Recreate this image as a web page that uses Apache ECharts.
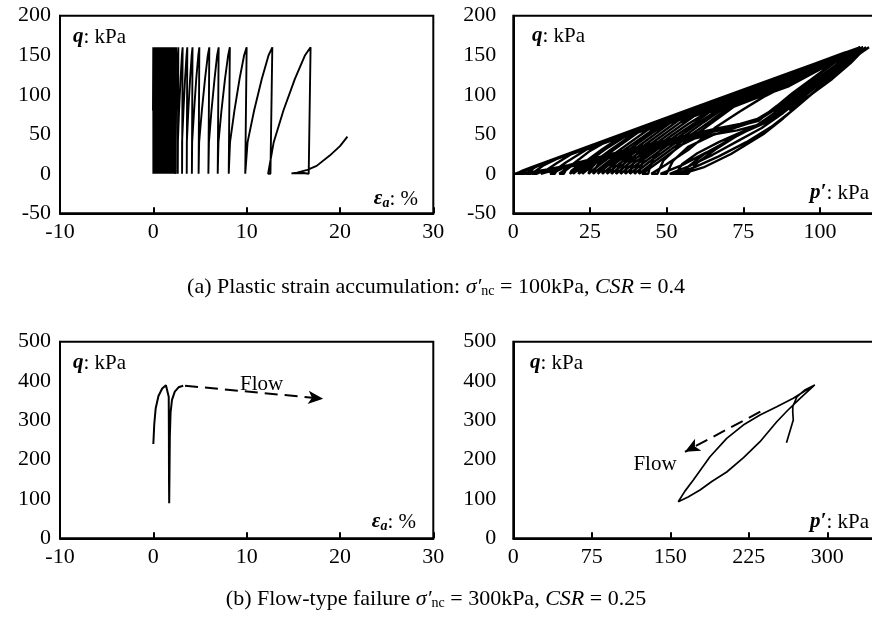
<!DOCTYPE html>
<html>
<head>
<meta charset="utf-8">
<title>Cyclic triaxial paths</title>
<script src="https://cdn.jsdelivr.net/npm/echarts@6/dist/echarts.min.js"></script>
<style>
  html, body { margin: 0; padding: 0; background: #fff; }
  #main { width: 872px; height: 626px; }
</style>
</head>
<body>
<div id="main"></div>
<script>
// (a) strain path, one cycle per column entry: strain (%) where q reaches each level
const loadLevels = [0, 40, 80, 120, 150, 160]
const cycleStart = [0.05, 0.1, 0.17, 0.24, 0.31, 0.38, 0.45, 0.52, 0.59, 0.67, 0.75, 0.83, 0.91, 0.99, 1.07, 1.16, 1.25, 1.35, 1.45, 1.55, 1.66, 1.77, 1.89, 2.01, 2.13, 2.3, 2.55, 3.0, 3.5, 4.05, 4.75, 5.8, 6.8, 7.95, 9.7, 12.3]
const cycleAt40 = [0.07, 0.12, 0.19, 0.26, 0.33, 0.4, 0.47, 0.54, 0.61, 0.69, 0.77, 0.85, 0.93, 1.01, 1.09, 1.18, 1.27, 1.37, 1.47, 1.57, 1.68, 1.79, 1.91, 2.04, 2.17, 2.35, 2.63, 3.08, 3.59, 4.16, 4.91, 5.96, 6.98, 8.22, 10.1, 12.9]
const cycleAt80 = [0.09, 0.15, 0.22, 0.29, 0.36, 0.43, 0.5, 0.57, 0.64, 0.72, 0.8, 0.88, 0.96, 1.04, 1.12, 1.21, 1.31, 1.41, 1.51, 1.61, 1.72, 1.84, 1.96, 2.09, 2.24, 2.44, 2.76, 3.23, 3.75, 4.37, 5.2, 6.23, 7.3, 8.69, 10.8, 13.94]
const cycleAt120 = [0.11, 0.18, 0.25, 0.32, 0.39, 0.46, 0.53, 0.6, 0.67, 0.75, 0.83, 0.91, 0.99, 1.07, 1.16, 1.25, 1.35, 1.45, 1.55, 1.66, 1.77, 1.89, 2.01, 2.14, 2.32, 2.54, 2.92, 3.4, 3.94, 4.6, 5.54, 6.56, 7.68, 9.24, 11.62, 15.17]
const cycleAt150 = [0.13, 0.2, 0.27, 0.34, 0.41, 0.48, 0.55, 0.62, 0.7, 0.78, 0.86, 0.94, 1.02, 1.1, 1.19, 1.28, 1.38, 1.48, 1.58, 1.69, 1.8, 1.92, 2.04, 2.18, 2.37, 2.63, 3.06, 3.56, 4.11, 4.82, 5.84, 6.84, 8.02, 9.73, 12.35, 16.26]
const cyclePeak = [0.15, 0.22, 0.29, 0.36, 0.43, 0.5, 0.57, 0.64, 0.72, 0.8, 0.88, 0.96, 1.04, 1.12, 1.21, 1.3, 1.4, 1.5, 1.6, 1.71, 1.82, 1.94, 2.06, 2.2, 2.4, 2.68, 3.14, 3.64, 4.2, 4.93, 6.0, 7.0, 8.2, 10.0, 12.75, 16.85]
const cycleUnload = [0.13, 0.2, 0.27, 0.34, 0.41, 0.48, 0.55, 0.62, 0.7, 0.78, 0.86, 0.94, 1.02, 1.1, 1.19, 1.28, 1.38, 1.48, 1.58, 1.69, 1.8, 1.92, 2.04, 2.17, 2.36, 2.62, 3.08, 3.58, 4.13, 4.85, 5.9, 6.9, 8.08, 9.85, 12.55, 16.65]
const denseCycles = 25 // early cycles packed into the black block near εa = 0–2.4 %
const strainHeadA = [[0, 80], [0.03, 160], [0.04, 0]]
const strainTailA = [[16.1, 1], [14.8, 0.5], [15.4, 1.5], [16.5, 5], [17.5, 10], [18.9, 23], [20, 35], [20.8, 47]]

// (a) stress path p'-q, one list per cycle (loading then unloading)
const stressCyclesA = [
  [[90, 80], [97, 100], [104, 120], [110, 140], [113, 152], [115, 160], [109, 143], [101, 120], [93, 98], [86, 79], [80, 63], [73, 48], [66, 31], [60, 14], [57, 0]],
  [[55, 0], [62, 8], [71, 25], [81.5, 50], [88, 70], [94.6, 92], [101, 114], [107, 134], [112, 150], [116, 160], [110, 144], [103, 123], [96, 103], [89, 83], [83, 66], [76, 54], [69, 40], [62, 24], [57, 9], [55, 0]],
  [[53, 0], [59, 8], [67, 22], [76, 40], [84, 59], [91, 80], [98, 103], [105, 128], [110, 146], [115, 160], [108, 141], [100, 118], [93, 98], [87, 80], [81, 63], [74, 52], [67, 40], [60, 26], [55, 12], [53, 0]],
  [[51, 0], [57, 9], [65, 24], [73, 41], [81, 58], [88, 77], [95, 98], [102, 121], [108, 141], [114, 160], [107, 141], [99, 119], [92, 100], [86, 83], [80, 68], [73, 59], [65, 49], [57, 34], [52, 16], [50, 0]],
  [[48, 0], [55, 11], [63, 27], [71, 44], [79, 60], [86, 77], [93, 96], [100, 117], [107, 138], [111, 150], [114, 160], [106, 140], [98, 117], [91, 98], [85, 82], [79, 68], [71, 60], [62, 50], [54, 35], [49, 17], [47, 0]],
  [[45, 0], [50, 12], [57, 30], [62, 46], [66, 59], [74, 79], [81.5, 97], [87, 108], [96, 124], [105, 143], [113, 160], [105, 142], [97, 119], [91, 102], [86, 86], [81, 71], [74, 63], [66, 57], [56, 48], [50, 38], [46, 22], [44.5, 8], [44, 0]],
  [[42, 0], [47, 14], [53, 31], [59, 48], [66, 68], [72, 85], [80, 97], [90, 111], [100, 132], [108, 148], [113, 160], [105, 141], [97, 118], [91, 100], [85, 83], [80, 67], [72, 59], [65, 53], [55, 44], [48, 36], [43, 22], [41.5, 8], [41, 0]],
  [[40.5, 0], [45.5, 14], [51.5, 31], [57.5, 48], [64, 66], [70, 83], [80, 97.5], [90, 112], [100, 132.5], [108, 148.5], [114, 160], [106, 140], [98, 116], [92, 98], [86, 80], [81, 63], [73, 55], [64, 49], [54, 40], [47, 34], [42, 20], [40, 8], [39.5, 0]],
  [[39, 0], [44, 14], [50, 31], [56, 48], [62, 65], [68, 81], [80, 98.6], [90, 112.8], [100, 133], [108, 149], [113, 160], [106, 140], [98, 116], [92, 98], [86, 80], [81, 63], [73, 55], [64, 49], [54, 40], [46, 33], [40, 20], [38.5, 8], [38, 0]],
  [[37.5, 0], [42.5, 14], [48.5, 31], [54.5, 48], [60.5, 64.5], [66, 79], [80, 99.6], [90, 113.8], [100, 133.6], [108, 149.2], [113, 160], [105, 141], [97, 118], [91, 100], [85, 83], [80, 67], [72, 59], [65, 53], [55, 44], [45, 35], [40, 24], [37, 10], [36.5, 0]],
  [[36, 0], [41, 14], [47, 31], [53, 48], [59, 64], [64, 78], [70, 86.4], [80, 100.6], [90, 114.8], [100, 134.2], [108, 149.5], [114, 160], [105, 142], [97, 119], [91, 102], [86, 86], [81, 71], [74, 63], [66, 57], [56, 48], [44, 37], [39, 26], [35.5, 10], [35, 0]],
  [[34.5, 0], [39.5, 14], [45.5, 31], [51.5, 48], [57, 63], [62, 75], [70, 87.4], [80, 101.6], [90, 115.8], [100, 134.8], [108, 149.8], [114, 160], [105, 142], [97, 119], [91, 102], [86, 86], [81, 71], [74, 63], [66, 57], [56, 48], [44, 37], [38, 27], [34.5, 11], [33.5, 0]],
  [[33, 0], [38, 14], [44, 31], [50, 48], [55, 62], [59, 73], [70, 88.4], [80, 102.6], [90, 116.8], [100, 135.4], [108, 150.1], [113, 160], [105, 141], [97, 118], [91, 100], [85, 83], [80, 67], [72, 59], [65, 53], [55, 44], [44, 34], [37, 27], [33, 12], [32, 0]],
  [[31.5, 0], [36.5, 14], [42.5, 31], [48.5, 48], [54.5, 65], [60, 75.2], [70, 89.4], [80, 103.6], [90, 117.8], [100, 136], [108, 150.4], [113, 160], [106, 140], [98, 116], [92, 98], [86, 80], [81, 63], [73, 55], [64, 49], [54, 40], [43, 31], [36, 24], [32, 11], [30.5, 0]],
  [[30, 0], [35, 14], [41, 31], [47, 48], [54, 68], [60, 76.2], [70, 90.4], [80, 104.6], [90, 118.8], [100, 136.6], [108, 150.7], [114, 160], [106, 140], [98, 116], [92, 98], [86, 80], [81, 63], [73, 55], [64, 49], [54, 40], [43, 31], [35, 22], [30, 10], [29, 0]],
  [[28.5, 0], [33.5, 14], [39.5, 31], [45.5, 48], [51, 64], [60, 76.7], [70, 90.9], [80, 105.1], [90, 119.3], [100, 136.9], [108, 150.9], [114, 160], [105, 141], [97, 118], [91, 100], [85, 83], [80, 67], [72, 59], [65, 53], [55, 44], [44, 34], [35, 25], [30, 12], [27.5, 0]],
  [[27, 0], [32, 14], [38, 31], [44, 48], [49, 61.5], [60, 77.2], [70, 91.4], [80, 105.6], [90, 119.8], [100, 137.2], [108, 151], [113, 160], [105, 142], [97, 119], [91, 102], [86, 86], [81, 71], [74, 63], [66, 57], [56, 48], [44, 37], [32, 25], [28, 14], [26.5, 5], [26, 0]],
  [[25.5, 0], [30.5, 14], [36.5, 31], [42, 46], [46, 57], [60, 78], [70, 92.2], [80, 106.4], [90, 120.6], [100, 137.7], [108, 151.2], [113, 160], [105, 142], [97, 119], [91, 102], [86, 86], [81, 71], [74, 63], [66, 57], [56, 48], [44, 37], [32, 25], [27, 14], [25, 5], [24.5, 0]],
  [[24, 0], [29, 14], [35, 31], [44, 56], [60, 78.7], [70, 92.9], [80, 107.1], [90, 121.3], [100, 138.1], [108, 151.4], [114, 160], [105, 141], [97, 118], [91, 100], [85, 83], [80, 67], [72, 59], [65, 53], [55, 44], [44, 34], [31, 22], [25, 13], [23, 4], [22.5, 0]],
  [[22, 0], [27, 14], [33, 31], [41, 53], [50, 66.5], [60, 80.2], [70, 94.4], [80, 108.6], [90, 122.8], [100, 139], [108, 151.6], [114, 160], [106, 140], [98, 116], [92, 98], [86, 80], [81, 63], [73, 55], [64, 49], [54, 40], [43, 31], [30, 19], [24, 12], [21.5, 4], [21.3, 0]],
  [[21, 0], [26, 14], [32, 31], [39, 50], [50, 65.5], [60, 79.7], [70, 93.9], [80, 108.1], [90, 122.3], [100, 138.7], [108, 151.8], [113, 160], [106, 140], [98, 116], [92, 98], [86, 80], [81, 63], [73, 55], [64, 49], [54, 40], [43, 31], [30, 19], [23, 12], [20, 4], [19.5, 0]],
  [[19, 0], [24, 14], [30, 31], [36, 46], [47, 61.5], [60, 80.2], [70, 94.4], [80, 108.6], [90, 122.8], [100, 139], [108, 151.9], [113, 160], [105, 141], [97, 118], [91, 100], [85, 83], [80, 67], [72, 59], [65, 53], [55, 44], [44, 34], [31, 22], [22, 13], [19, 4], [18.5, 0]],
  [[18, 0], [23, 14], [29, 31], [34, 44], [45, 59.4], [60, 80.7], [70, 94.9], [80, 109.1], [90, 123.3], [100, 139.3], [108, 152], [114, 160], [105, 142], [97, 119], [91, 102], [86, 86], [81, 71], [74, 63], [66, 57], [56, 48], [44, 37], [32, 25], [20, 13], [17, 4], [16.5, 0]],
  [[15, 0], [20, 14], [25, 29], [29, 37.7], [40, 53.3], [60, 81.7], [80, 110.1], [90, 124.3], [100, 139.9], [108, 152.3], [113, 160], [105, 141], [97, 118], [91, 100], [85, 83], [80, 67], [72, 59], [65, 53], [55, 44], [44, 34], [31, 22], [17, 9], [14, 3], [13.5, 0]],
  [[12, 0], [17, 14], [24, 31], [35, 46.9], [50, 68.2], [65, 89.5], [80, 110.8], [95, 132.1], [105, 147.8], [114, 160], [106, 140], [98, 116], [92, 98], [86, 80], [81, 63], [73, 55], [64, 49], [54, 40], [43, 31], [30, 19], [16, 7], [11, 2], [10.5, 0]],
  [[9, 0], [14, 13], [19, 25], [30, 40.6], [45, 61.9], [60, 83.2], [75, 104.5], [90, 125.8], [100, 140.8], [108, 152.8], [113, 160], [105, 142], [97, 119], [91, 102], [86, 86], [81, 71], [74, 63], [66, 57], [56, 48], [44, 37], [32, 25], [18, 11], [10, 4], [7.5, 0]],
  [[6, 0], [10, 11], [14, 18.4], [30, 41.1], [50, 69.5], [70, 97.9], [90, 126.3], [100, 141.1], [108, 153], [114, 160], [105, 141], [97, 118], [91, 100], [85, 83], [80, 67], [72, 59], [65, 53], [55, 44], [44, 34], [31, 22], [17, 9], [8, 3], [5.5, 0]],
  [[4, 0], [7, 8], [10, 13.2], [30, 41.6], [50, 70], [70, 98.4], [90, 126.8], [100, 141.4], [108, 153.1], [113, 160], [106, 140], [98, 116], [92, 98], [86, 80], [81, 63], [73, 55], [64, 49], [54, 40], [43, 31], [30, 19], [16, 7], [6, 2], [3.5, 0]],
  [[2, 0], [5, 6], [8, 10.9], [30, 42.1], [60, 84.7], [90, 127.3], [108, 153.2], [114, 160], [105, 142], [97, 119], [91, 102], [86, 86], [81, 71], [74, 63], [66, 57], [56, 48], [44, 37], [32, 25], [18, 11], [8, 3], [2.5, 0]],
  [[1, 0], [3, 4], [6, 8.5], [30, 42.6], [60, 85.2], [90, 127.8], [113, 160], [105, 141], [97, 118], [91, 100], [85, 83], [80, 67], [72, 59], [65, 53], [55, 44], [44, 34], [31, 22], [17, 9], [7, 3], [2, 0]],
  [[0.5, 0], [3, 3.5], [10, 14], [20, 28], [33, 46.5]]
]

// (b) flow-type failure
const strainPathB = [[0, 240], [0.1, 290], [0.25, 330], [0.55, 362], [0.95, 381], [1.35, 389], [1.55, 386], [1.65, 360], [1.67, 250], [1.68, 150], [1.7, 89], [1.73, 160], [1.77, 260], [1.85, 320], [2.0, 352], [2.3, 373], [2.7, 384], [3.2, 388]]
const stressPathB = [[261, 243], [264, 270], [267.5, 301], [267, 320], [267, 335], [271, 360], [279, 378], [288, 390], [274, 356], [262, 325], [251.7, 296.5], [235.7, 245.6], [220, 205], [203.9, 168.6], [190, 145], [178.4, 122.8], [167, 105], [157.6, 93], [164, 120], [172, 148], [187.9, 207.5], [203.9, 254], [219.7, 288], [235.7, 313.5], [251.7, 334.6], [267.5, 356], [280, 377], [288, 390]]
const flowStrainB = [[3.4, 388], [18.2, 355]]
const flowStressB = [[236, 322], [164, 220]]
const flowNoteStrainB = [11.6, 391]
const flowNoteStressB = [135.4, 188]

const FONT = 'Liberation Serif'

// build the strain path: dense early block and the later, wider cycles
const strainDenseA = strainHeadA.slice()
const strainWideA = []
cycleStart.forEach((s, i) => {
  const target = i < denseCycles ? strainDenseA : strainWideA
  const row = [s, cycleAt40[i], cycleAt80[i], cycleAt120[i], cycleAt150[i], cyclePeak[i]]
  if (i === denseCycles) target.push([cycleUnload[i - 1], 0])
  row.forEach((x, k) => target.push([x, loadLevels[k]]))
  target.push([cycleUnload[i], 0])
})
strainTailA.forEach(p => strainWideA.push(p))

const stressPathA = []
stressCyclesA.forEach(c => c.forEach(p => stressPathA.push(p)))

function xAxisOf(gridIndex, min, max, interval) {
  return {
    gridIndex, type: 'value', min, max, interval,
    axisLine: { onZero: false, lineStyle: { color: '#000', width: 2 } },
    axisTick: { inside: true, length: 6, lineStyle: { color: '#000', width: 2 } },
    axisLabel: { color: '#000', fontFamily: FONT, fontSize: 22, margin: 8 },
    splitLine: { show: false }
  }
}

function yAxisOf(gridIndex, min, max, interval, margin) {
  return {
    gridIndex, type: 'value', min, max, interval,
    axisLine: { show: true, onZero: false, lineStyle: { color: '#000', width: 2 } },
    axisTick: { show: false },
    axisLabel: { color: '#000', fontFamily: FONT, fontSize: 22, margin },
    splitLine: { show: false }
  }
}

function gridAt(left, top, width, height) {
  return { left, top, width, height, outerBoundsMode: 'none', containLabel: false, show: true, borderColor: '#000', borderWidth: 2 }
}

function curve(idx, data, width) {
  return {
    type: 'line', xAxisIndex: idx, yAxisIndex: idx, data,
    symbol: 'none', smooth: false, silent: true,
    lineStyle: { color: '#000', width }
  }
}

function flowArrow(idx, seg) {
  return {
    type: 'line', xAxisIndex: idx, yAxisIndex: idx, data: [],
    markLine: {
      silent: true, symbol: ['none', 'arrow'], symbolSize: [10, 15],
      label: { show: false },
      lineStyle: { color: '#000', width: 2, type: [13, 7] },
      data: [[{ coord: seg[0] }, { coord: seg[1] }]]
    }
  }
}

function note(idx, pos) {
  return {
    type: 'scatter', xAxisIndex: idx, yAxisIndex: idx, data: [pos],
    symbolSize: 0, silent: true, itemStyle: { color: '#000', opacity: 1 },
    label: { show: true, position: 'inside', formatter: 'Flow', color: '#000', opacity: 1, fontFamily: FONT, fontSize: 21 }
  }
}

const RICH = {
  b: { fontFamily: FONT, fontSize: 21, fontWeight: 'bold', fontStyle: 'italic', color: '#000' },
  s: { fontFamily: FONT, fontSize: 14, fontWeight: 'bold', fontStyle: 'italic', color: '#000', padding: [9, 0, 0, 0] },
  n: { fontFamily: FONT, fontSize: 21, fontWeight: 'normal', color: '#000' },
  i: { fontFamily: FONT, fontSize: 22, fontWeight: 'normal', fontStyle: 'italic', color: '#000' },
  sub: { fontFamily: FONT, fontSize: 14, fontWeight: 'normal', color: '#000', padding: [9, 0, 0, 0] },
  t: { fontFamily: FONT, fontSize: 22, fontWeight: 'normal', color: '#000' }
}

function label(text, pos) {
  return Object.assign({ text, padding: 0, textStyle: { fontWeight: 'normal', rich: RICH, lineHeight: 24 } }, pos)
}

const option = {
  animation: false,
  backgroundColor: '#fff',
  title: [
    label('{b|q}{n|: kPa}', { left: 73, top: 25 }),
    label('{b|ε}{s|a}{n|: %}', { right: 454, top: 187 }),
    label('{b|q}{n|: kPa}', { left: 532, top: 24 }),
    label('{b|p′}{n|: kPa}', { left: 810, top: 181 }),
    label('{b|q}{n|: kPa}', { left: 73, top: 351 }),
    label('{b|ε}{s|a}{n|: %}', { right: 456, top: 510 }),
    label('{b|q}{n|: kPa}', { left: 530, top: 351 }),
    label('{b|p′}{n|: kPa}', { left: 810, top: 510 }),
    label('{t|(a) Plastic strain accumulation: }{i|σ′}{sub|nc}{t| = 100kPa, }{i|CSR}{t| = 0.4}', { left: 'center', top: 275 }),
    label('{t|(b) Flow-type failure }{i|σ′}{sub|nc}{t| = 300kPa, }{i|CSR}{t| = 0.25}', { left: 'center', top: 587 })
  ],
  grid: [
    gridAt(60, 15.7, 373.3, 197.6),
    gridAt(513.3, 15.7, 383.3, 197.6),
    gridAt(60, 341.7, 373.3, 196.6),
    gridAt(513.3, 341.7, 392.5, 196.6)
  ],
  xAxis: [
    xAxisOf(0, -10, 30, 10),
    xAxisOf(1, 0, 125, 25),
    xAxisOf(2, -10, 30, 10),
    xAxisOf(3, 0, 375, 75)
  ],
  yAxis: [
    yAxisOf(0, -50, 200, 50, 9),
    yAxisOf(1, -50, 200, 50, 17),
    yAxisOf(2, 0, 500, 100, 9),
    yAxisOf(3, 0, 500, 100, 17)
  ],
  series: [
    curve(0, strainDenseA, 2.6),
    curve(0, strainWideA, 1.9),
    curve(1, stressPathA, 2.4),
    curve(2, strainPathB, 2),
    curve(3, stressPathB, 1.7),
    flowArrow(2, flowStrainB),
    flowArrow(3, flowStressB),
    note(2, flowNoteStrainB),
    note(3, flowNoteStressB)
  ]
}

const myChart = echarts.init(document.getElementById('main'))
myChart.setOption(option)
window.addEventListener('resize', function () {
  myChart.resize()
})
</script>
</body>
</html>
